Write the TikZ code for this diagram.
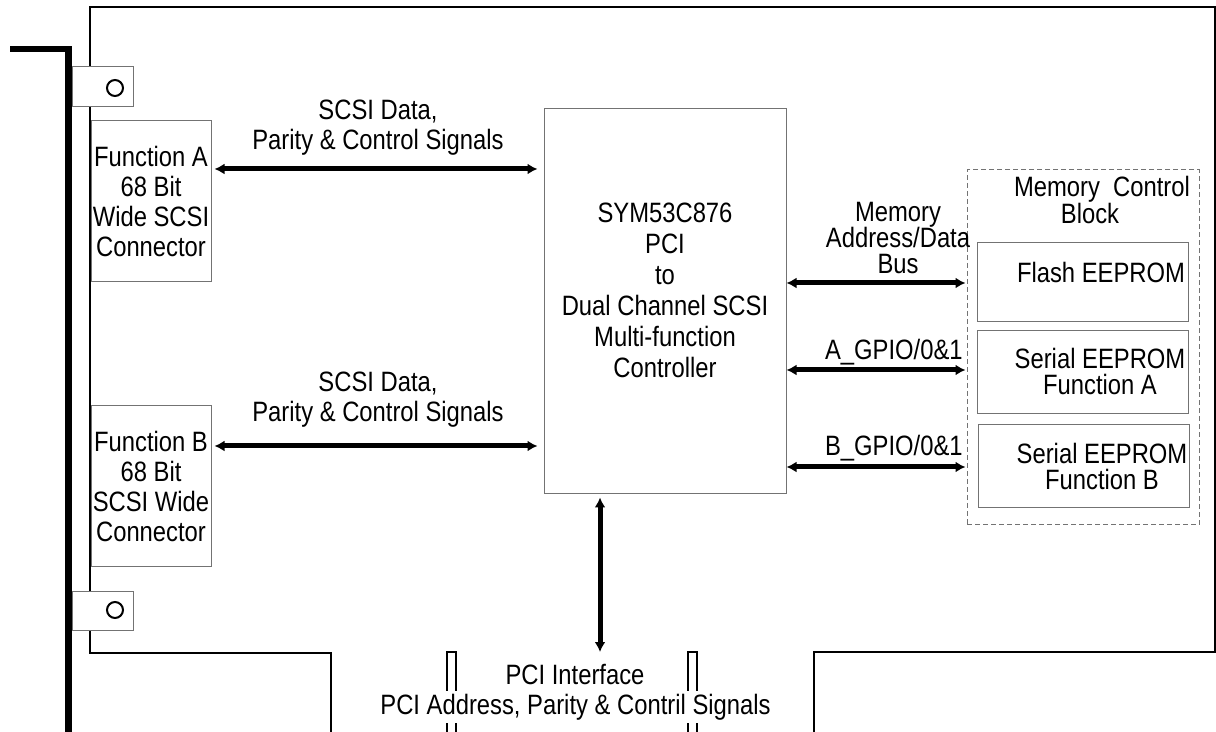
\documentclass[tikz,border=0pt]{standalone}
\usepackage{fontspec}
\setmainfont{Liberation Sans}[FakeStretch=0.85]
\usetikzlibrary{arrows.meta}

\begin{document}
\begin{tikzpicture}[x=0.5pt,y=0.5pt,yscale=-1,
	board/.style={line width=1pt},
	box/.style={draw=black!55,line width=0.5pt,inner sep=0pt},
	hole/.style={circle,draw,line width=1pt,minimum size=8pt,inner sep=0pt},
	lbl/.style={align=center,inner sep=0pt,font=\fontsize{14}{15}\selectfont},
	tight/.style={align=center,inner sep=0pt,font=\fontsize{14}{13.2}\selectfont},
	bus/.style={line width=2.5pt,{Latex[length=5pt,width=5.5pt]}-{Latex[length=5pt,width=5.5pt]}}]
	\useasboundingbox (0,0) rectangle (1216,732);
	
	%Shape: board outline
	\draw [board] (331,732) -- (331,653) -- (90,653) -- (90,7) -- (1215,7) -- (1215,652) -- (814,652) -- (814,732) ;
	%Shape: bracket
	\draw [line width=3.25pt] (10,49) -- (68.5,49) -- (68.5,732) ;
	%Shape: slot notches
	\draw [board] (447,732) -- (447,652) -- (456,652) -- (456,732) ;
	\draw [board] (688,732) -- (688,652) -- (697,652) -- (697,732) ;
	
	%Shape: tabs
	\node [box,fill=white,minimum width=30.5pt,minimum height=20pt] (tabA) at (102.5,87) {};
	\node [hole] (holeA) at (115,88) {};
	\node [box,fill=white,minimum width=30.5pt,minimum height=19.5pt] (tabB) at (102.5,610.5) {};
	\node [hole] (holeB) at (115,610) {};
	
	%Shape: connectors
	\node [box,lbl,minimum width=60pt,minimum height=80.5pt] (funA) at (151,201.5) {Function A\\68 Bit\\Wide SCSI\\Connector};
	\node [box,lbl,minimum width=60pt,minimum height=80.5pt] (funB) at (151,486.5) {Function B\\68 Bit\\SCSI Wide\\Connector};
	
	%Shape: controller
	\node [box,minimum width=121pt,minimum height=192.5pt] (ctrl) at (665,301.5) {};
	\node [lbl,font=\fontsize{14}{15.5}\selectfont] (ctrltxt) at (665,290) {SYM53C876\\PCI\\to\\Dual Channel SCSI\\Multi-function\\Controller};
	
	%Shape: memory control block
	\node [draw=black!55,line width=0.5pt,dash pattern={on 2.5pt off 1.5pt},minimum width=116pt,minimum height=177.5pt,inner sep=0pt] (memblk) at (1083,347.5) {};
	\node [box,minimum width=105.5pt,minimum height=39.5pt] (flash) at (1082.5,282.5) {};
	\node [box,minimum width=105.5pt,minimum height=41.5pt] (serA) at (1082.5,372.5) {};
	\node [box,minimum width=105.5pt,minimum height=41.5pt] (serB) at (1083.5,466.5) {};
	
	%Arrows
	\draw [bus,shorten <=1.5pt,shorten >=3pt] (funA.east |- 0,169) -- (ctrl.west |- 0,169) ;
	\draw [bus,shorten <=1.5pt,shorten >=3pt] (funB.east |- 0,446) -- (ctrl.west |- 0,446) ;
	\draw [bus,shorten >=0.5pt] (ctrl.east |- 0,283) -- (memblk.west |- 0,283) ;
	\draw [bus,shorten >=0.5pt] (ctrl.east |- 0,370) -- (memblk.west |- 0,370) ;
	\draw [bus,shorten >=0.5pt] (ctrl.east |- 0,467) -- (memblk.west |- 0,467) ;
	\coordinate (slot) at (600,652);
	\draw [bus,shorten <=1.5pt] (slot |- ctrl.south) -- (slot) ;
	
	% Text Node
	\node [lbl] (scsiA) at (378,128) {SCSI Data,\\Parity \& Control Signals};
	% Text Node
	\node [lbl] (scsiB) at (378,400) {SCSI Data,\\Parity \& Control Signals};
	% Text Node
	\node [tight] (membus) at (898,238) {Memory\\Address/Data\\Bus};
	% Text Node
	\node [lbl,anchor=east] (gpioA) at (963,352) {A\_GPIO/0\&1};
	% Text Node
	\node [lbl,anchor=east] (gpioB) at (963,448) {B\_GPIO/0\&1};
	% Text Node
	\node [tight] (memtitle) at (1102,200) {Memory\ \ Control\\Block\hspace*{12pt}};
	% Text Node
	\node [lbl] (flashtxt) at (1101,272) {Flash EEPROM};
	% Text Node
	\node [tight] (serAtxt) at (1100,371.5) {Serial EEPROM\\Function A};
	% Text Node
	\node [tight] (serBtxt) at (1102,466.5) {Serial EEPROM\\Function B};
	% Text Node
	\node [lbl] (pciif) at (575,675) {PCI Interface};
	% Text Node
	\node [lbl,fill=white,inner ysep=1.5pt] (pcisig) at (575.5,707) {PCI Address, Parity \& Contril Signals};
	
\end{tikzpicture}
\end{document}
